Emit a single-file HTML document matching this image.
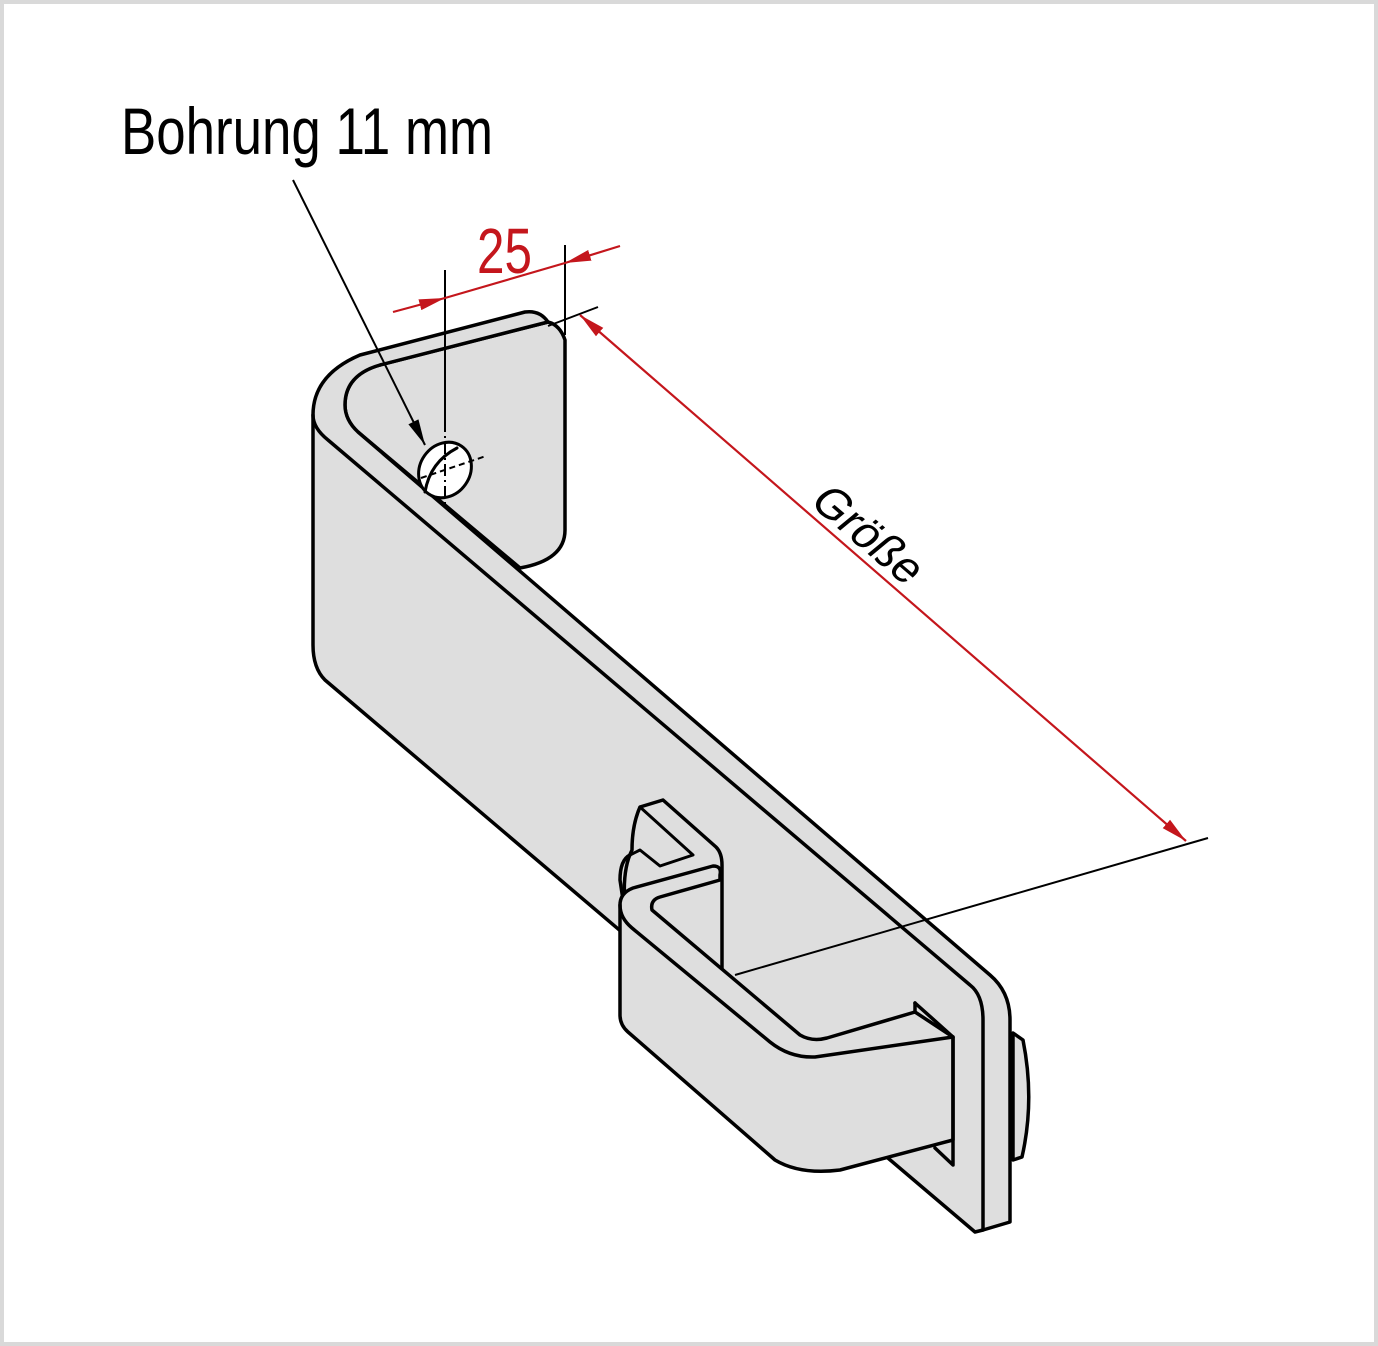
<!DOCTYPE html>
<html><head><meta charset="utf-8"><style>
html,body{margin:0;padding:0;background:#fff}
svg{display:block}
</style></head><body>
<svg width="1378" height="1346" viewBox="0 0 1378 1346" xmlns="http://www.w3.org/2000/svg">
<defs>
<marker id="ar" viewBox="0 0 10 10" refX="10" refY="5" markerWidth="26" markerHeight="14" orient="auto-start-reverse" markerUnits="userSpaceOnUse" preserveAspectRatio="none"><path d="M0,1 L10,5 L0,9 Z" fill="#c4161c"/></marker>
<marker id="ab" viewBox="0 0 10 10" refX="10" refY="5" markerWidth="26" markerHeight="14" orient="auto" markerUnits="userSpaceOnUse" preserveAspectRatio="none"><path d="M0,1 L10,5 L0,9 Z" fill="#000"/></marker>
</defs>
<rect x="2" y="2" width="1374" height="1342" fill="#fff" stroke="#d9d9d9" stroke-width="4"/>

<g stroke="#000" stroke-width="3.5" stroke-linejoin="round" stroke-linecap="round" fill="#dedede">
<!-- back flange -->
<path d="M548,322 L380,365 Q345,375 345,405 Q345,420 358,432 L520,568 Q565,560 565,530 L565,340 Q560,325 548,322 Z"/>
<!-- main bar -->
<path d="M313,415 Q313,375 360,355 L525,312 Q540,310 548,322 L380,365 Q345,375 345,405 Q345,420 358,432 L990,975 Q1010,992 1010,1020 L1010,1222 L983,1230 L975,1232 L325,680 Q313,668 313,645 Z"/>
<path d="M313,415 Q313,428 328,440 L970,985 Q983,995 983,1020 L983,1230" fill="none"/>
<!-- hole -->
<ellipse cx="445" cy="470" rx="25" ry="29" transform="rotate(35 445 470)" fill="#fff" stroke-width="3"/>
<path d="M425,492 Q430,462 457,448" fill="none" stroke-width="3"/>
</g>
<line x1="445" y1="420" x2="445" y2="505" stroke="#000" stroke-width="2" stroke-dasharray="12,4,2,4"/>
<line x1="421" y1="478" x2="486" y2="456" stroke="#000" stroke-width="2" stroke-dasharray="6,4"/>
<line x1="735" y1="975" x2="1208" y2="838" stroke="#000" stroke-width="2"/>

<g stroke="#000" stroke-width="3.5" stroke-linejoin="round" stroke-linecap="round" fill="#dedede">
<path d="M1013,1033 L1023,1040 Q1035,1100 1022,1157 L1013,1160 Z"/>
<path d="M640,807 L663,800 L716,847 Q722,853 722,865 L722,972 L660,930 L625,905 Q622,870 632,850 Q632,825 640,807 Z"/>
<path d="M630,855 Q620,860 620,880 L623,900" fill="none"/>
<path d="M640,807 L693,855 L660,866 L640,850 L630,855" fill="none" stroke-width="3"/>
<path d="M620,905 Q620,893 633,888 L713,866 Q722,866 720,875 L720,880 L660,897 Q650,900 652,910 L800,1035 Q812,1042 827,1038 L915,1012 L953,1037 L953,1140 L840,1170 Q800,1175 775,1160 L628,1032 Q620,1025 620,1015 Z"/>
<path d="M620,905 Q620,918 632,928 L770,1042 Q790,1058 815,1057 L953,1037" fill="none"/>
<path d="M915,1003 L953,1037 L953,1165 L935,1148" fill="none"/>
<path d="M915,1003 L915,1012" fill="none"/>
</g>

<line x1="445" y1="270" x2="445" y2="420" stroke="#000" stroke-width="2"/>
<line x1="565" y1="245" x2="565" y2="335" stroke="#000" stroke-width="2"/>
<line x1="393" y1="312" x2="445" y2="298" stroke="#c4161c" stroke-width="2.2" marker-end="url(#ar)"/>
<line x1="445" y1="298" x2="565" y2="263" stroke="#c4161c" stroke-width="2.2"/>
<line x1="620" y1="246" x2="565" y2="263" stroke="#c4161c" stroke-width="2.2" marker-end="url(#ar)"/>
<text x="477" y="273" font-family="'Liberation Sans Narrow','Liberation Sans',sans-serif" font-size="64" fill="#c4161c" textLength="55" lengthAdjust="spacingAndGlyphs">25</text>

<line x1="548" y1="326" x2="598" y2="307" stroke="#000" stroke-width="2"/>
<line x1="580" y1="315" x2="1186" y2="841" stroke="#c4161c" stroke-width="2.2" marker-start="url(#ar)" marker-end="url(#ar)"/>
<text x="0" y="0" transform="translate(808,503) rotate(40.5) skewX(-10)" font-family="'Liberation Sans Narrow','Liberation Sans',sans-serif" font-size="46" fill="#000" textLength="128" lengthAdjust="spacingAndGlyphs">Größe</text>

<line x1="293" y1="180" x2="425" y2="445" stroke="#000" stroke-width="2" marker-end="url(#ab)"/>
<text x="121" y="154" font-family="'Liberation Sans Narrow','Liberation Sans',sans-serif" font-size="66" fill="#000" textLength="372" lengthAdjust="spacingAndGlyphs">Bohrung 11 mm</text>
</svg>
</body></html>
